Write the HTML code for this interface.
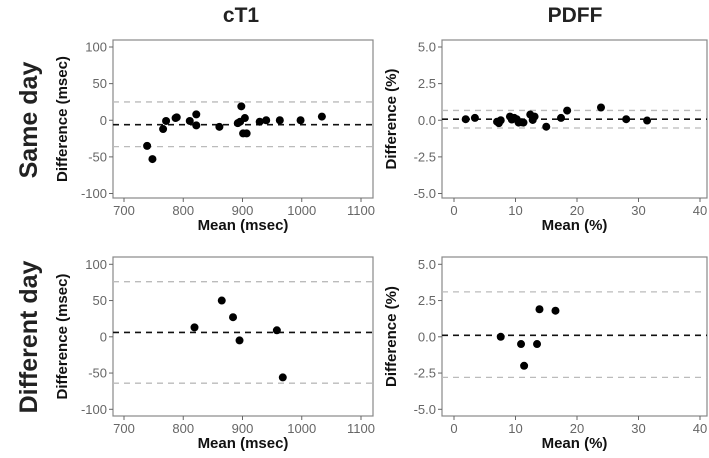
<!DOCTYPE html>
<html><head><meta charset="utf-8"><style>
body{margin:0;background:#fff;}
svg{display:block;font-family:"Liberation Sans",sans-serif;}
</style></head><body>
<svg id="c" width="709" height="458"></svg>
<script>
// cT1 same day
const ct1SameMean=[739,748,766,771,787,789,811,822,822,861,892,896,898,904,901,907,929,940,963,998,1034];
const ct1SameDiff=[-35,-53,-12,-1,3,4,-1,8,-7,-9,-4,-2,19,3,-18,-18,-2,0,0,0,5];
const ct1SameLines=[-6,25,-36];
// PDFF same day
const pdffSameMean=[1.9,3.4,7.0,7.3,7.6,9.1,9.4,9.8,10.2,10.5,11.0,11.3,12.4,12.8,13.1,15.0,17.4,18.4,23.9,28.0,31.4];
const pdffSameDiff=[0.07,0.16,-0.1,-0.2,0,0.25,0.05,0.16,0.07,-0.16,-0.14,-0.16,0.39,0.02,0.25,-0.44,0.16,0.66,0.87,0.07,-0.02];
const pdffSameLines=[0.07,0.67,-0.53];
// cT1 different day
const ct1DiffMean=[819,865,884,895,958,968];
const ct1DiffDiff=[13,50,27,-5,9,-56];
const ct1DiffLines=[6,76,-64];
// PDFF different day
const pdffDiffMean=[7.6,10.9,11.4,13.5,13.9,16.5];
const pdffDiffDiff=[0,-0.5,-2.0,-0.5,1.9,1.8];
const pdffDiffLines=[0.1,3.1,-2.8];
const ct1XTicks=[700,800,900,1000,1100];
const ct1YTicks=[100,50,0,-50,-100];
const pdffXTicks=[0,10,20,30,40];
const pdffYTicks=["5.0","2.5","0.0","-2.5","-5.0"];

const NS="http://www.w3.org/2000/svg";
const svg=document.getElementById('c');
function mk(t,a,p){const e=document.createElementNS(NS,t);for(const k in a)e.setAttribute(k,a[k]);(p||svg).appendChild(e);return e;}

function panel(name,L,R,T,B,xd,xr,yd,yr,xt,yt,mean,diff,lines,xtitle,ytitle){
  const g=mk('g',{});
  
  
  const sx=v=>xr[0]+(v-xd[0])/(xd[1]-xd[0])*(xr[1]-xr[0]);
  const sy=v=>yr[0]+(v-yd[0])/(yd[1]-yd[0])*(yr[1]-yr[0]);
  const fr=mk('rect',{x:L,y:T,width:R-L,height:B-T,fill:'#fff',stroke:'#888','stroke-width':1.2},g);
  
  
  lines.forEach((v,i)=>{
    const ln=mk('line',{x1:L,x2:R,y1:sy(v),y2:sy(v),stroke:i==0?'#111':'#bbb','stroke-width':i==0?1.6:1.3,'stroke-dasharray':'6,5'},g);
    
    
  });
  mean.forEach((m,i)=>{
    const c=mk('circle',{cx:sx(m),cy:sy(diff[i]),r:4,fill:'#000'},g);
    
    
  });
  xt.forEach(v=>{
    const x=sx(+v);
    mk('line',{x1:x,x2:x,y1:B,y2:B+4,stroke:'#666'},g);
    const t=mk('text',{x:x,y:B+17,'text-anchor':'middle','font-size':13,fill:'#666'},g);
    t.textContent=v;
    
    
  });
  yt.forEach(v=>{
    const y=sy(+v);
    mk('line',{x1:L-4,x2:L,y1:y,y2:y,stroke:'#666'},g);
    const t=mk('text',{x:L-6,y:y+4.5,'text-anchor':'end','font-size':13,fill:'#666'},g);
    t.textContent=v;
    
    
  });
  const xtt=mk('text',{x:(L+R)/2,y:B+32,'text-anchor':'middle','font-size':15,'font-weight':'bold',fill:'#111'},g);
  xtt.textContent=xtitle;
  
  
  const ytx=L-46, yty=(T+B)/2;
  const ytt=mk('text',{x:ytx,y:yty,'text-anchor':'middle','font-size':15,'font-weight':'bold',fill:'#111',transform:`rotate(-90 ${ytx} ${yty})`},g);
  ytt.textContent=ytitle;
  
  
}
panel('ct1-same-day-panel',113,373,40,198,[700,1100],[124,361],[100,-100],[47,193.5],ct1XTicks,ct1YTicks,ct1SameMean,ct1SameDiff,ct1SameLines,'Mean (msec)','Difference (msec)');
panel('pdff-same-day-panel',442,707,40,198,[0,40],[454,700],[5,-5],[47,193.5],pdffXTicks,pdffYTicks,pdffSameMean,pdffSameDiff,pdffSameLines,'Mean (%)','Difference (%)');
panel('ct1-different-day-panel',113,373,257,416,[700,1100],[124,361],[100,-100],[264.3,409.3],ct1XTicks,ct1YTicks,ct1DiffMean,ct1DiffDiff,ct1DiffLines,'Mean (msec)','Difference (msec)');
panel('pdff-different-day-panel',442,707,257,416,[0,40],[454,700],[5,-5],[264.3,409.3],pdffXTicks,pdffYTicks,pdffDiffMean,pdffDiffDiff,pdffDiffLines,'Mean (%)','Difference (%)');

function label(txt,x,y,size,rot,name){
  const t=mk('text',{x:x,y:y,'text-anchor':'middle','font-size':size,'font-weight':'bold',fill:'#222'});
  if(rot)t.setAttribute('transform',`rotate(-90 ${x} ${y})`);
  t.textContent=txt;
  
  
}
label('cT1',241,22,21,false,'ct1-column-title');
label('PDFF',575,22,21,false,'pdff-column-title');
label('Same day',37,120,25,true,'same-day-row-title');
label('Different day',37,337,25,true,'different-day-row-title');
</script>
</body></html>
